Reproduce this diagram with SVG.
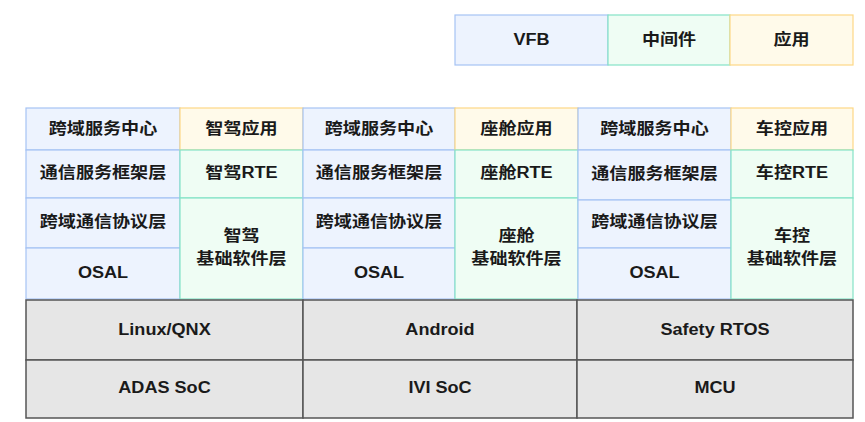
<svg xmlns="http://www.w3.org/2000/svg" width="865" height="422" viewBox="0 0 865 422">
<style>
.bg{fill:#ffffff}
.blue{fill:#edf3fe;stroke:#a6c3f3;stroke-width:1.2}
.green{fill:#effdf4;stroke:#84e3c6;stroke-width:1.2}
.orange{fill:#fffaea;stroke:#fdd885;stroke-width:1.2}
.gray{fill:#e6e6e6;stroke:#555555;stroke-width:1.5}
text{font-family:"Liberation Sans","Noto Sans CJK SC",sans-serif;font-size:16px;font-weight:bold;fill:#1a1a1a;text-anchor:middle;dominant-baseline:central}
</style>
<rect class="bg" x="0" y="0" width="865" height="422"/>
<g id="legend">
  <g id="legend-vfb"><rect class="blue" x="455" y="15" width="153" height="50"/><text transform="translate(531.5,40) scale(1.13,1)">VFB</text></g>
  <g id="legend-middleware"><rect class="green" x="608" y="15" width="122" height="50"/><text transform="translate(669,40) scale(1.13,1)">中间件</text></g>
  <g id="legend-app"><rect class="orange" x="730" y="15" width="123" height="50"/><text transform="translate(791.5,40) scale(1.13,1)">应用</text></g>
</g>
<g id="adas">
  <g id="adas-svc"><rect class="blue" x="26" y="108" width="154" height="42"/><text transform="translate(103,129) scale(1.13,1)">跨域服务中心</text></g>
  <g id="adas-fw"><rect class="blue" x="26" y="150" width="154" height="48"/><text transform="translate(103,173) scale(1.13,1)">通信服务框架层</text></g>
  <g id="adas-proto"><rect class="blue" x="26" y="198" width="154" height="50"/><text transform="translate(103,222) scale(1.13,1)">跨域通信协议层</text></g>
  <g id="adas-osal"><rect class="blue" x="26" y="248" width="154" height="51"/><text transform="translate(103,272.5) scale(1.13,1)">OSAL</text></g>
  <g id="adas-app"><rect class="orange" x="180" y="108" width="123" height="42"/><text transform="translate(241.5,129) scale(1.13,1)">智驾应用</text></g>
  <g id="adas-rte"><rect class="green" x="180" y="150" width="123" height="48"/><text transform="translate(241.5,172.5) scale(1.13,1)">智驾RTE</text></g>
  <g id="adas-bsw"><rect class="green" x="180" y="198" width="123" height="101"/><text transform="translate(241.5,236) scale(1.13,1)">智驾</text><text transform="translate(241.5,259) scale(1.13,1)">基础软件层</text></g>
</g>
<g id="ivi">
  <g id="ivi-svc"><rect class="blue" x="303" y="108" width="152" height="42"/><text transform="translate(379,129) scale(1.13,1)">跨域服务中心</text></g>
  <g id="ivi-fw"><rect class="blue" x="303" y="150" width="152" height="48"/><text transform="translate(379,173) scale(1.13,1)">通信服务框架层</text></g>
  <g id="ivi-proto"><rect class="blue" x="303" y="198" width="152" height="50"/><text transform="translate(379,222) scale(1.13,1)">跨域通信协议层</text></g>
  <g id="ivi-osal"><rect class="blue" x="303" y="248" width="152" height="51"/><text transform="translate(379,272.5) scale(1.13,1)">OSAL</text></g>
  <g id="ivi-app"><rect class="orange" x="455" y="108" width="123" height="42"/><text transform="translate(516.5,129) scale(1.13,1)">座舱应用</text></g>
  <g id="ivi-rte"><rect class="green" x="455" y="150" width="123" height="48"/><text transform="translate(516.5,172.5) scale(1.13,1)">座舱RTE</text></g>
  <g id="ivi-bsw"><rect class="green" x="455" y="198" width="123" height="101"/><text transform="translate(516.5,236) scale(1.13,1)">座舱</text><text transform="translate(516.5,259) scale(1.13,1)">基础软件层</text></g>
</g>
<g id="vehicle">
  <g id="veh-svc"><rect class="blue" x="578" y="108" width="153" height="42"/><text transform="translate(654.5,129) scale(1.13,1)">跨域服务中心</text></g>
  <g id="veh-fw"><rect class="blue" x="578" y="150" width="153" height="50"/><text transform="translate(654.5,174) scale(1.13,1)">通信服务框架层</text></g>
  <g id="veh-proto"><rect class="blue" x="578" y="200" width="153" height="48"/><text transform="translate(654.5,222) scale(1.13,1)">跨域通信协议层</text></g>
  <g id="veh-osal"><rect class="blue" x="578" y="248" width="153" height="51"/><text transform="translate(654.5,272.5) scale(1.13,1)">OSAL</text></g>
  <g id="veh-app"><rect class="orange" x="731" y="108" width="122" height="42"/><text transform="translate(792,129) scale(1.13,1)">车控应用</text></g>
  <g id="veh-rte"><rect class="green" x="731" y="150" width="122" height="48"/><text transform="translate(792,172.5) scale(1.13,1)">车控RTE</text></g>
  <g id="veh-bsw"><rect class="green" x="731" y="198" width="122" height="101"/><text transform="translate(792,236) scale(1.13,1)">车控</text><text transform="translate(792,259) scale(1.13,1)">基础软件层</text></g>
</g>
<g id="os">
  <g id="os-linux"><rect class="gray" x="26" y="300" width="277" height="60"/><text transform="translate(164.5,329.5) scale(1.13,1)">Linux/QNX</text></g>
  <g id="os-android"><rect class="gray" x="303" y="300" width="274" height="60"/><text transform="translate(440,329.5) scale(1.13,1)">Android</text></g>
  <g id="os-rtos"><rect class="gray" x="577" y="300" width="276" height="60"/><text transform="translate(715,329.5) scale(1.13,1)">Safety RTOS</text></g>
</g>
<g id="hw">
  <g id="hw-adas"><rect class="gray" x="26" y="360" width="277" height="58"/><text transform="translate(164.5,388) scale(1.13,1)">ADAS SoC</text></g>
  <g id="hw-ivi"><rect class="gray" x="303" y="360" width="274" height="58"/><text transform="translate(440,388) scale(1.13,1)">IVI SoC</text></g>
  <g id="hw-mcu"><rect class="gray" x="577" y="360" width="276" height="58"/><text transform="translate(715,388) scale(1.13,1)">MCU</text></g>
</g>
<g id="connectors"/>
</svg>
